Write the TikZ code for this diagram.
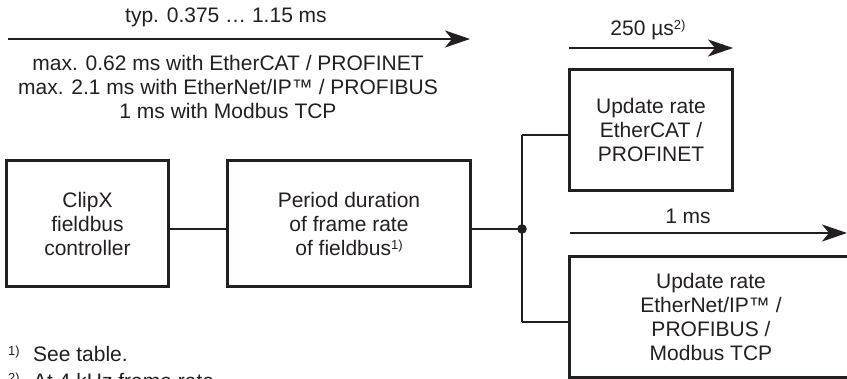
\documentclass[tikz,border=0pt]{standalone}
\usepackage{fontspec}
\setmainfont{Liberation Sans}
\usetikzlibrary{arrows.meta}
\definecolor{ink}{RGB}{35,31,32}
\newcommand{\fnmark}[1]{\raisebox{6pt}{\fontsize{13}{13}\selectfont #1}}
\begin{document}
\begin{tikzpicture}[x=1pt,y=-1pt,
  txt/.style={inner sep=0pt,text=ink,font=\fontsize{21}{24}\selectfont,align=center},
  boxnode/.style={txt,draw=ink,line width=2.2pt,inner sep=0pt},
  conn/.style={draw=ink,line width=1.6pt},
  timearrow/.style={draw=ink,line width=2.4pt,-{Stealth[length=25pt,width=17pt,inset=7pt]}}]
\useasboundingbox (0,0) rectangle (847,379);
\clip (0,0) rectangle (847,379);
% timing arrows
\coordinate (a1s) at (8,39);
\coordinate (a1e) at (470,39);
\coordinate (a2s) at (569,48);
\coordinate (a2e) at (733,48);
\coordinate (a3s) at (570,233);
\coordinate (a3e) at (847,233);
\draw[timearrow] (a1s) -- (a1e);
\draw[timearrow] (a2s) -- (a2e);
\draw[timearrow] (a3s) -- (a3e);
\node[txt] (typ) at (226,17) {typ. 0.375 … 1.15 ms};
\node[txt] (maxinfo) at (228,87) {max. 0.62 ms with EtherCAT / PROFINET\\max. 2.1 ms with EtherNet/IP™ / PROFIBUS\\1 ms with Modbus TCP};
\node[txt] (t250) at (648,30) {250 µs\fnmark{2)}};
\node[txt] (t1ms) at (688,216) {1 ms};
% boxes
\node[boxnode,minimum width=162pt,minimum height=126pt] (clipx) at (87.5,223.5) {ClipX\\fieldbus\\controller};
\node[boxnode,minimum width=243pt,minimum height=126pt] (period) at (349,223.5) {Period duration\\of frame rate\\of fieldbus\fnmark{1)}};
\node[boxnode,minimum width=163pt,minimum height=121pt] (upd1) at (651,130) {Update rate\\EtherCAT /\\PROFINET};
\node[boxnode,minimum width=283pt,minimum height=121pt] (upd2) at (711,317) {Update rate\\EtherNet/IP™ /\\PROFIBUS /\\Modbus TCP};
% connectors
\coordinate (j) at (522,229);
\coordinate (ja) at (522,135);
\coordinate (jb) at (522,322);
\draw[conn] (clipx.east |- j) -- (period.west |- j);
\draw[conn] (period.east |- j) -- (j);
\draw[conn] (ja) -- (jb);
\draw[conn] (ja) -- (upd1.west |- ja);
\draw[conn] (jb) -- (upd2.west |- jb);
\fill[ink] (j) circle (4.8pt);
% footnotes
\node[txt,anchor=base west] (fn1m) at (8,362) {\fnmark{1)}};
\node[txt,anchor=base west] (fn1) at (33,362) {See table.};
\node[txt,anchor=base west] (fn2m) at (8,389) {\fnmark{2)}};
\node[txt,anchor=base west] (fn2) at (33,389) {At 4 kHz frame rate};
\end{tikzpicture}
\end{document}
